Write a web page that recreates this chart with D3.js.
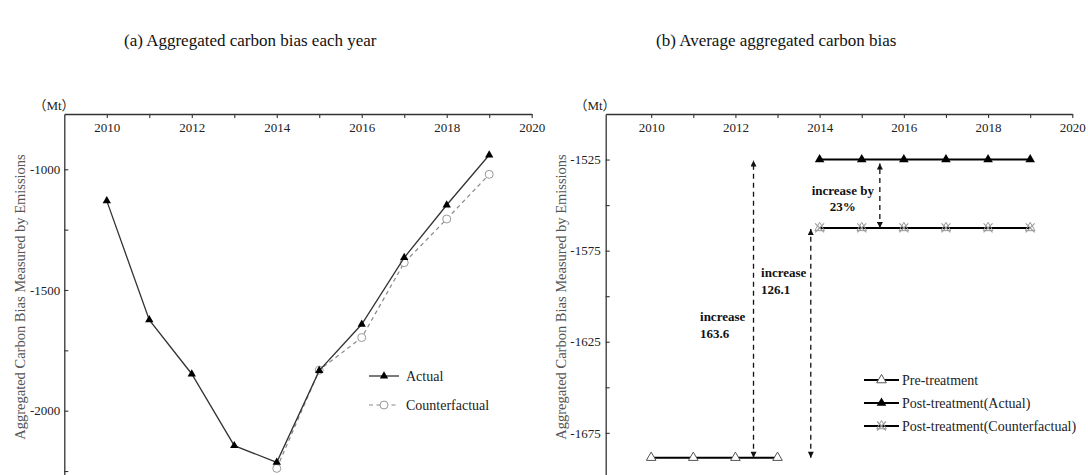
<!DOCTYPE html>
<html>
<head>
<meta charset="utf-8">
<script src="https://cdn.jsdelivr.net/npm/d3@7/dist/d3.min.js"></script>
<style>
  body { margin: 0; background: #fff; }
  svg { font-family: "Liberation Serif", "Times New Roman", serif; display: block; }
</style>
</head>
<body>
<svg id="drawing_region"></svg>
<script>
// ---- data (Mt) ----
// (a) aggregated carbon bias each year
const years_a = [2010, 2011, 2012, 2013, 2014, 2015, 2016, 2017, 2018, 2019];
const actual_a = [-1131, -1624, -1848, -2145, -2214, -1834, -1642, -1366, -1148, -941];
const cf_years_a = [2014, 2015, 2016, 2017, 2018, 2019];
const counter_a = [-2239, -1832, -1697, -1387, -1206, -1021];
const xticks_a = [2010, 2011, 2012, 2013, 2014, 2015, 2016, 2017, 2018, 2019, 2020];
const yticks_a = [-1000, -1250, -1500, -1750, -2000, -2250];
const ylabels_a = [-1000, -1500, -2000];

// (b) average aggregated carbon bias
const pre_years = [2010, 2011, 2012, 2013];
const post_years = [2014, 2015, 2016, 2017, 2018, 2019];
const pre_mean = -1688.6;
const post_actual_mean = -1525.0;
const post_cf_mean = -1562.5;
const xticks_b = [2010, 2011, 2012, 2013, 2014, 2015, 2016, 2017, 2018, 2019, 2020];
const yticks_b = [-1525, -1550, -1575, -1600, -1625, -1650, -1675, -1700];
const ylabels_b = [-1525, -1575, -1625, -1675];
const arrows_b = [
  { x: 2012.43, from: pre_mean, to: post_actual_mean },
  { x: 2013.79, from: pre_mean, to: post_cf_mean },
  { x: 2015.43, from: post_cf_mean, to: post_actual_mean }
];
const notes_b = [
  { x: 2011.16, y: -1611.3, lines: ['increase', '163.6'], anchor: 'start' },
  { x: 2012.61, y: -1586.9, lines: ['increase', '126.1'], anchor: 'start' },
  { x: 2014.55, y: -1541.7, lines: ['increase by', '23%'], anchor: 'middle' }
];

const svg = d3.select('#drawing_region')
  .attr('width', 1088)
  .attr('height', 475);

const defs = svg.append('defs');
defs.append('marker')
  .attr('id', 'head')
  .attr('viewBox', '0 0 10 10')
  .attr('refX', 10).attr('refY', 5)
  .attr('markerUnits', 'userSpaceOnUse')
  .attr('markerWidth', 9).attr('markerHeight', 6)
  .attr('orient', 'auto-start-reverse')
  .append('path')
  .attr('d', 'M0,0L10,5L0,10Z')
  .attr('fill', '#111');

svg.append('text').attr('x', 124).attr('y', 46)
  .attr('font-size', 17).attr('fill', '#111')
  .text('(a) Aggregated carbon bias each year');
svg.append('text').attr('x', 656).attr('y', 46)
  .attr('font-size', 17).attr('fill', '#111')
  .text('(b) Average aggregated carbon bias');

function frame(cfg) {
  const g = svg.append('g');
  const x = d3.scaleLinear().domain(cfg.xDomain).range(cfg.xRange);
  const y = d3.scaleLinear().domain(cfg.yDomain).range(cfg.yRange);
  const top = cfg.yRange[0], left = cfg.xRange[0];

  const xaxis = g.append('g')
    .attr('transform', `translate(0,${top})`)
    .call(d3.axisBottom(x)
      .tickValues(cfg.xTicks)
      .tickFormat(d => d % 2 === 0 ? d : '')
      .tickSizeInner(4).tickSizeOuter(0).tickPadding(5));

  const yaxis = g.append('g')
    .attr('transform', `translate(${left},0)`)
    .call(d3.axisLeft(y)
      .tickValues(cfg.yTicks)
      .tickFormat(d => cfg.yLabels.includes(d) ? d : '')
      .tickSizeInner(-4).tickSizeOuter(0).tickPadding(cfg.yPad));

  [xaxis, yaxis].forEach(a => {
    a.select('.domain').attr('stroke', '#333').attr('stroke-width', 1.3);
    a.selectAll('.tick line').attr('stroke', '#333').attr('stroke-width', 1.1);
    a.selectAll('text').attr('font-size', 13).attr('fill', '#222')
      .attr('font-family', '"Liberation Serif", "Times New Roman", serif');
  });

  g.append('text')
    .attr('x', cfg.unitX).attr('y', 105.5)
    .attr('text-anchor', 'middle').attr('dy', '0.35em')
    .attr('font-size', 13).attr('fill', '#222')
    .attr('font-family', '"Liberation Serif", "Noto Sans CJK SC", serif')
    .text('（Mt）');

  g.append('text')
    .attr('transform', `translate(${cfg.titleX},297) rotate(-90)`)
    .attr('text-anchor', 'middle').attr('dy', '0.35em')
    .attr('font-size', 14.5).attr('fill', '#555')
    .text('Aggregated Carbon Bias Measured by Emissions');

  return { g, x, y };
}

// ---------- panel (a) ----------
const A = frame({
  xDomain: [2009, 2020], xRange: [64.3, 531.7],
  yDomain: [-771, -2300], yRange: [114, 483.1],
  xTicks: xticks_a, yTicks: yticks_a, yLabels: ylabels_a, yPad: 4,
  unitX: 54, titleX: 20
});

const act_a = years_a.map((yr, i) => ({ year: yr, value: actual_a[i] }));
const cf_a = cf_years_a.map((yr, i) => ({ year: yr, value: counter_a[i] }));
const line_a = d3.line().x(d => A.x(d.year)).y(d => A.y(d.value));

A.g.append('path')
  .attr('d', line_a(cf_a))
  .attr('fill', 'none').attr('stroke', '#888')
  .attr('stroke-width', 1.2).attr('stroke-dasharray', '4,3.5');
A.g.selectAll('circle.cf')
  .data(cf_a).enter().append('circle')
  .attr('class', 'cf')
  .attr('cx', d => A.x(d.year)).attr('cy', d => A.y(d.value))
  .attr('r', 4).attr('fill', '#fff').attr('stroke', '#999').attr('stroke-width', 1);

A.g.append('path')
  .attr('d', line_a(act_a))
  .attr('fill', 'none').attr('stroke', '#333').attr('stroke-width', 1.3);
A.g.selectAll('path.tri')
  .data(act_a).enter().append('path')
  .attr('class', 'tri')
  .attr('transform', d => `translate(${A.x(d.year)},${A.y(d.value)})`)
  .attr('d', d3.symbol(d3.symbolTriangle, 30))
  .attr('fill', '#000');

// legend (a)
const leg_a = A.g.append('g');
leg_a.append('line').attr('x1', 369).attr('x2', 399).attr('y1', 376).attr('y2', 376)
  .attr('stroke', '#333').attr('stroke-width', 1.3);
leg_a.append('path').attr('transform', 'translate(384,376)')
  .attr('d', d3.symbol(d3.symbolTriangle, 30)).attr('fill', '#000');
leg_a.append('line').attr('x1', 369).attr('x2', 399).attr('y1', 405).attr('y2', 405)
  .attr('stroke', '#888').attr('stroke-width', 1.2).attr('stroke-dasharray', '4,3.5');
leg_a.append('circle').attr('cx', 384).attr('cy', 405).attr('r', 4)
  .attr('fill', '#fff').attr('stroke', '#999');
leg_a.selectAll('text').data(['Actual', 'Counterfactual']).enter().append('text')
  .attr('x', 406).attr('y', (d, i) => 376 + i * 29).attr('dy', '0.35em')
  .attr('font-size', 14).attr('fill', '#222').text(d => d);

// ---------- panel (b) ----------
const B = frame({
  xDomain: [2008.92, 2020], xRange: [605.7, 1072.3],
  yDomain: [-1500, -1700], yRange: [114, 478.4],
  xTicks: xticks_b, yTicks: yticks_b, yLabels: ylabels_b, yPad: 5,
  unitX: 595, titleX: 561
});

const line_b = d3.line().x(d => B.x(d.year)).y(d => B.y(d.value));
const series_b = [
  { key: 'pre', data: pre_years.map(yr => ({ year: yr, value: pre_mean })) },
  { key: 'act', data: post_years.map(yr => ({ year: yr, value: post_actual_mean })) },
  { key: 'cf', data: post_years.map(yr => ({ year: yr, value: post_cf_mean })) }
];

function drawMarker(sel, key) {
  if (key === 'pre') {
    sel.append('path').attr('d', d3.symbol(d3.symbolTriangle, 40))
      .attr('fill', '#fff').attr('stroke', '#555').attr('stroke-width', 1);
  } else if (key === 'act') {
    sel.append('path').attr('d', d3.symbol(d3.symbolTriangle, 40)).attr('fill', '#000');
  } else {
    sel.append('path').attr('d', d3.symbol(d3.symbolTriangle, 40))
      .attr('fill', 'none').attr('stroke', '#999').attr('stroke-width', 1);
    sel.append('path').attr('d', 'M-4.5,-4.5L4.5,4.5M4.5,-4.5L-4.5,4.5')
      .attr('stroke', '#999').attr('stroke-width', 1.1);
  }
}

series_b.forEach(s => {
  B.g.append('path')
    .attr('d', line_b(s.data))
    .attr('fill', 'none').attr('stroke', '#000').attr('stroke-width', 2);
  B.g.selectAll(`g.m-${s.key}`)
    .data(s.data).enter().append('g')
    .attr('class', `m-${s.key}`)
    .attr('transform', d => `translate(${B.x(d.year)},${B.y(d.value)})`)
    .each(function () { drawMarker(d3.select(this), s.key); });
});

// dashed double arrows
B.g.selectAll('line.arrow')
  .data(arrows_b).enter().append('line')
  .attr('class', 'arrow')
  .attr('x1', d => B.x(d.x)).attr('x2', d => B.x(d.x))
  .attr('y1', d => B.y(d.from)).attr('y2', d => B.y(d.to) + (d.to === post_actual_mean && d.from === post_cf_mean ? 4 : 1))
  .attr('stroke', '#111').attr('stroke-width', 1.3)
  .attr('stroke-dasharray', '5,4')
  .attr('marker-start', 'url(#head)')
  .attr('marker-end', 'url(#head)');

// annotation notes
notes_b.forEach(n => {
  const t = B.g.append('text')
    .attr('text-anchor', n.anchor)
    .attr('font-size', 13).attr('font-weight', 'bold').attr('fill', '#111');
  n.lines.forEach((ln, i) => {
    t.append('tspan')
      .attr('x', B.x(n.x))
      .attr('y', B.y(n.y) + i * 16.7)
      .attr('dy', '0.35em')
      .text(ln);
  });
});

// legend (b)
const leg_b_items = [
  { key: 'pre', label: 'Pre-treatment' },
  { key: 'act', label: 'Post-treatment(Actual)' },
  { key: 'cf', label: 'Post-treatment(Counterfactual)' }
];
const leg_b = B.g.append('g');
leg_b_items.forEach((it, i) => {
  const yy = 380 + i * 23;
  leg_b.append('line').attr('x1', 864).attr('x2', 899).attr('y1', yy).attr('y2', yy)
    .attr('stroke', '#000').attr('stroke-width', 2);
  const m = leg_b.append('g').attr('transform', `translate(881.5,${yy})`);
  drawMarker(m, it.key);
  leg_b.append('text').attr('x', 902).attr('y', yy).attr('dy', '0.35em')
    .attr('font-size', 14).attr('fill', '#222').text(it.label);
});
</script>
</body>
</html>
